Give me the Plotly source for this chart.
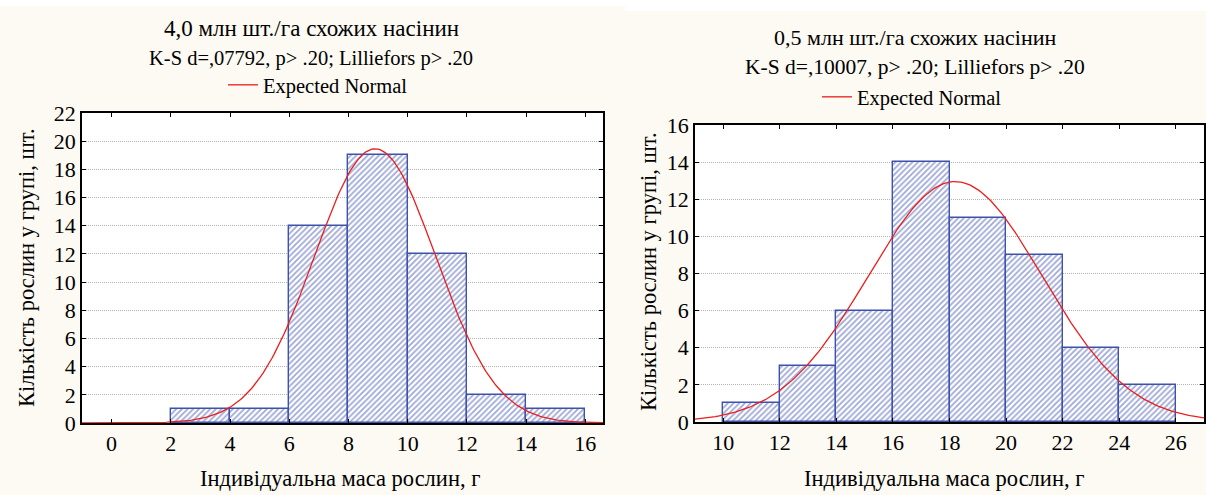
import numpy as np
import plotly.graph_objects as go
from plotly.subplots import make_subplots

# ---- data ----
left_bin_starts = [2, 4, 6, 8, 10, 12, 14]
left_counts = [1, 1, 14, 19, 12, 2, 1]
left_mean, left_sd, left_n = 8.9, 2.05, 50

right_bin_starts = [10, 12, 14, 16, 18, 20, 22, 24]
right_counts = [1, 3, 6, 14, 11, 9, 4, 2]
right_mean, right_sd, right_n = 18.2, 3.08, 50

bin_width = 2
left_xticks = [0, 2, 4, 6, 8, 10, 12, 14, 16]
left_yticks = list(range(0, 23, 2))
right_xticks = [10, 12, 14, 16, 18, 20, 22, 24, 26]
right_yticks = list(range(0, 17, 2))

left_title = "4,0 млн шт./га схожих насінин"
left_sub = "K-S d=,07792, p> .20; Lilliefors p> .20"
right_title = "0,5 млн шт./га схожих насінин"
right_sub = "K-S d=,10007, p> .20; Lilliefors p> .20"
x_title = "Індивідуальна маса рослин, г"
y_title = "Кількість рослин у групі, шт."

W, H = 1206, 495
FONT = "Liberation Serif"
CREAM = "#fcfaf2"
BAR_C = "rgb(62,82,172)"
RED = "rgb(235,30,30)"


def normal_curve(mean, sd, n, lo, hi):
    xs = np.linspace(lo, hi, 300)
    ys = n * bin_width / (sd * np.sqrt(2 * np.pi)) * np.exp(-0.5 * ((xs - mean) / sd) ** 2)
    return xs, ys


fig = make_subplots(rows=1, cols=2)

for col, starts, counts, mean, sd, n, rng, leg in [
    (1, left_bin_starts, left_counts, left_mean, left_sd, left_n, (-1, 16.6), "legend"),
    (2, right_bin_starts, right_counts, right_mean, right_sd, right_n, (9, 27), "legend2"),
]:
    mids = [s + bin_width / 2 for s in starts]
    fig.add_trace(go.Bar(
        x=mids, y=counts, width=[bin_width] * len(mids),
        marker=dict(color="white", line=dict(color=BAR_C, width=1.4),
                    pattern=dict(shape="/", fgcolor=BAR_C, bgcolor="white",
                                 size=4, solidity=0.45)),
        showlegend=False, hoverinfo="x+y"), row=1, col=col)
    xs, ys = normal_curve(mean, sd, n, rng[0], rng[1])
    fig.add_trace(go.Scatter(x=xs, y=ys, mode="lines", line=dict(color=RED, width=1.3),
                             name="Expected Normal", legend=leg, showlegend=True),
                  row=1, col=col)


def px_x(p):
    return p / W


def px_y(p):
    return 1 - p / H


axis_common = dict(showline=True, linecolor="black", linewidth=1.6, mirror="ticks",
                   ticks="inside", ticklen=4, tickcolor="black", automargin=False,
                   tickfont=dict(family=FONT, size=22, color="black"), zeroline=False)

fig.update_xaxes(**axis_common, showgrid=False)
fig.update_yaxes(**axis_common, showgrid=True, gridcolor="#b4b4b4", griddash="1px,1px", gridwidth=1)

fig.update_xaxes(range=[-1, 16.6], tickvals=left_xticks, domain=[px_x(82), px_x(603)], row=1, col=1)
fig.update_yaxes(range=[0, 22], tickvals=left_yticks, domain=[px_y(423), px_y(113)], row=1, col=1)
fig.update_xaxes(range=[9, 27], tickvals=right_xticks, domain=[px_x(695), px_x(1204)], row=1, col=2)
fig.update_yaxes(range=[0, 16], tickvals=right_yticks, domain=[px_y(422), px_y(125)], row=1, col=2)

ann = []
for cx, ty, sy, t, s, tsz, ssz in [(311, 28, 59, left_title, left_sub, 23, 20.5),
                                   (915, 37, 67, right_title, right_sub, 22, 21.5)]:
    ann.append(dict(x=px_x(cx), y=px_y(ty), xref="paper", yref="paper", text=t, showarrow=False,
                    font=dict(family=FONT, size=tsz, color="black"), xanchor="center", yanchor="middle"))
    ann.append(dict(x=px_x(cx), y=px_y(sy), xref="paper", yref="paper", text=s, showarrow=False,
                    font=dict(family=FONT, size=ssz, color="black"), xanchor="center", yanchor="middle"))
for cx in (340, 944):
    ann.append(dict(x=px_x(cx), y=px_y(478), xref="paper", yref="paper", text=x_title, showarrow=False,
                    font=dict(family=FONT, size=22.5, color="black"), xanchor="center", yanchor="middle"))
for cx, cy in ((26, 268), (648, 272)):
    ann.append(dict(x=px_x(cx), y=px_y(cy), xref="paper", yref="paper", text=y_title, showarrow=False,
                    textangle=-90, font=dict(family=FONT, size=22.5, color="black"),
                    xanchor="center", yanchor="middle"))

legend_common = dict(orientation="h", bgcolor="rgba(0,0,0,0)", xanchor="center", yanchor="middle",
                     font=dict(family=FONT, size=20.5, color="black"), itemwidth=30)

fig.update_layout(
    width=W, height=H, margin=dict(l=0, r=0, t=0, b=0, autoexpand=False),
    paper_bgcolor=CREAM, plot_bgcolor="white", bargap=0,
    font=dict(family=FONT, color="black"),
    annotations=ann,
    legend=dict(**legend_common, x=px_x(318), y=px_y(85)),
    legend2=dict(**legend_common, x=px_x(912), y=px_y(97)),
    shapes=[
        dict(type="rect", xref="paper", yref="paper", x0=0, x1=px_x(625), y0=px_y(6), y1=1,
             fillcolor="white", line_width=0, layer="below"),
        dict(type="rect", xref="paper", yref="paper", x0=px_x(625), x1=1, y0=px_y(11), y1=1,
             fillcolor="white", line_width=0, layer="below"),
    ],
)

fig.write_html("out.html", config={"displayModeBar": False},
               post_script="document.body.style.margin='0';document.body.style.overflow='hidden';")
